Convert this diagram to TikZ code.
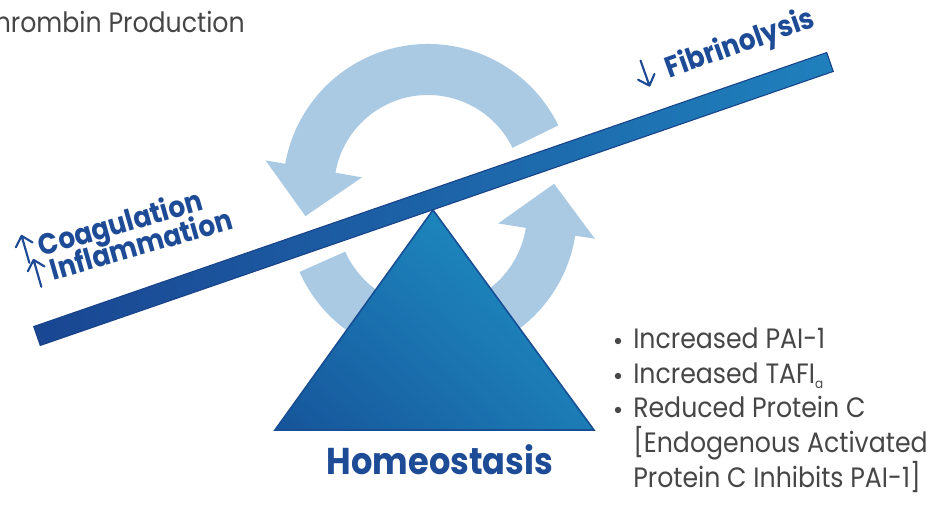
\documentclass[tikz,border=0pt]{standalone}
\usepackage{fontspec}
\setmainfont{Poppins}[FakeStretch=0.9]
\usetikzlibrary{calc,shadings}

\definecolor{ringblue}{RGB}{170,202,228}
\definecolor{beamdark}{RGB}{26,70,146}
\definecolor{beamlight}{RGB}{31,128,188}
\definecolor{beamedge}{RGB}{24,66,138}
\definecolor{triLL}{RGB}{22,84,154}
\definecolor{triLR}{RGB}{28,124,182}
\definecolor{triUL}{RGB}{26,116,178}
\definecolor{triUR}{RGB}{32,150,198}
\definecolor{triedge}{RGB}{24,78,148}
\definecolor{labelblue}{RGB}{30,75,150}
\definecolor{notegray}{RGB}{70,70,70}

% small open-headed arrows set in line with the beam labels
\newcommand{\upmark}{\tikz[baseline=0pt, x=1pt, y=1pt]
  \draw[labelblue, line width=1.6pt, line cap=round, line join=round]
  (0,-2) -- (0,19) (-6.5,12) -- (0,19) -- (6.5,12);}
\newcommand{\downmark}{\tikz[baseline=0pt, x=1pt, y=1pt]
  \draw[labelblue, line width=1.6pt, line cap=round, line join=round]
  (0,0) -- (0,20) (-6.5,7) -- (0,0) -- (6.5,7);}

\tikzset{
  note/.style={inner sep=0pt, text=notegray, font=\fontsize{21}{26}\selectfont},
  bluelabel/.style={inner sep=0pt, text=labelblue, font=\fontsize{22}{26}\selectfont\bfseries},
  titlelabel/.style={inner sep=0pt, text=labelblue, font=\fontsize{28}{34}\selectfont\bfseries},
  ring/.style={fill=ringblue},
  dot/.style={fill=notegray}
}

\begin{document}
\begin{tikzpicture}[x=0.75pt,y=0.75pt]
\useasboundingbox (0,0) rectangle (930,509);
\clip (0,0) rectangle (930,509);

% centres of the two halves of the cycle
\coordinate (U) at (428,320);
\coordinate (L) at (432,296);

% upper half: runs anticlockwise, head points down on the left
\path[ring] ($(U)+(26:145)$) arc[start angle=26, end angle=170, radius=145]
  -- ($(U)+(170:165)$) -- ($(U)+(170:116)+(-8.33,-47.27)$)
  -- ($(U)+(170:67)$) -- ($(U)+(170:94)$)
  arc[start angle=170, end angle=26, radius=94] -- cycle;

% lower half: runs anticlockwise, head points up on the right
\path[ring] ($(L)+(204:145)$) arc[start angle=204, end angle=351, radius=145]
  -- ($(L)+(351:165)$) -- ($(L)+(351:116)+(7.5,47.4)$)
  -- ($(L)+(351:67)$) -- ($(L)+(351:95)$)
  arc[start angle=351, end angle=204, radius=95] -- cycle;

% fulcrum
\coordinate (apex) at (433,299);
\coordinate (baseR) at (594,79);
\coordinate (baseL) at (275,79);
\shadedraw[upper left=triUL, upper right=triUR, lower left=triLL, lower right=triLR,
  draw=triedge, line width=1.2pt, line join=miter]
  (apex) -- (baseR) -- (baseL) -- cycle;

% tilted beam
\shadedraw[left color=beamdark, right color=beamlight, draw=beamedge, line width=0.8pt]
  (33.73,182.45) -- (826.73,456.45) -- (833.27,437.55) -- (40.27,163.55) -- cycle;

% labels on the beam
\node[bluelabel, anchor=base west, rotate=16] (coag) at (19,246)
  {\upmark\hspace{3pt}Coagulation};
\node[bluelabel, anchor=base west, rotate=16] (infl) at (31,222)
  {\upmark\hspace{3pt}Inflammation};
\node[bluelabel, anchor=base west, rotate=19.5] (fib) at (640,420)
  {\downmark\hspace{9pt}Fibrinolysis};

\node[titlelabel, anchor=base] (homeo) at (440,34) {Homeostasis};

% text at the top left
\node[note, anchor=base east] (thr) at (245,476) {Thrombin Production};

% list on the right
\node[note, anchor=base west] (b1) at (633,160) {Increased PAI-1};
\node[note, anchor=base west] (b2) at (633,125)
  {Increased TAFI\raisebox{-0.3ex}{\fontsize{10}{10}\selectfont a}};
\node[note, anchor=base west] (b3) at (633,91) {Reduced Protein C};
\node[note, anchor=base west] (b3a) at (633,56) {[Endogenous Activated};
\node[note, anchor=base west] (b3b) at (633,21) {Protein C Inhibits PAI-1]};
\foreach \n in {b1,b2,b3}
  \path[dot] ($(\n.base west)+(-15,8)$) circle[radius=3.2];
\end{tikzpicture}
\end{document}
